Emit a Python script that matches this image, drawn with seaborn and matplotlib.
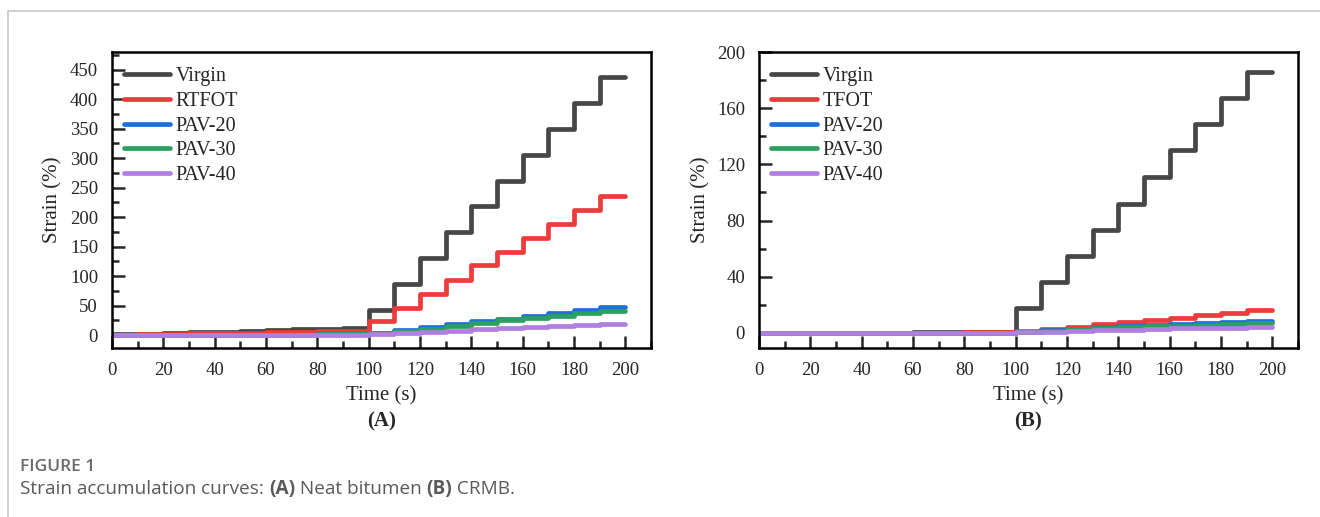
import matplotlib
matplotlib.use('Agg')
import matplotlib.pyplot as plt
from matplotlib.ticker import MultipleLocator
from matplotlib.lines import Line2D
import numpy as np
import pandas as pd
import seaborn as sns

# cycle start times (s); each level is held for the 10 s cycle
cycle_start = list(range(0, 210, 10))

# panel A - neat bitumen, strain (%) reached in each cycle
virgin_a = [1.1, 2.3, 3.5, 4.7, 5.9, 7.1, 8.3, 9.6, 10.8, 12.0,
            42, 86, 131, 174, 218, 262, 305, 350, 393, 437]
rtfot_a = [0.7, 1.4, 2.1, 2.8, 3.5, 4.2, 4.9, 5.6, 6.3, 7.0,
           24, 46, 70, 94, 118, 141, 165, 189, 212, 236]
pav20_a = [0.1, 0.2, 0.3, 0.4, 0.5, 0.6, 0.7, 0.8, 0.9, 1.0,
           3.5, 8, 13, 18, 23, 28, 32, 37, 42, 47]
pav30_a = [0.1, 0.2, 0.3, 0.4, 0.5, 0.6, 0.7, 0.8, 0.9, 1.0,
           3, 7, 11, 16, 20, 25, 29, 33, 37, 41]
pav40_a = [0.05, 0.1, 0.15, 0.2, 0.25, 0.3, 0.35, 0.4, 0.45, 0.5,
           1.5, 3.5, 5.5, 7.5, 9.5, 11.5, 13.5, 15.5, 17.5, 19]

# panel B - CRMB
virgin_b = [0.05, 0.1, 0.15, 0.2, 0.25, 0.3, 0.35, 0.4, 0.45, 0.5,
            18, 36.5, 55, 73.5, 92, 111, 130, 148.5, 167, 186]
tfot_b = [0.04, 0.08, 0.12, 0.16, 0.2, 0.24, 0.28, 0.32, 0.36, 0.4,
          1.2, 3, 4.5, 6.2, 7.8, 9.5, 11, 12.8, 14.3, 16]
pav20_b = [0.03, 0.06, 0.09, 0.12, 0.15, 0.18, 0.21, 0.24, 0.27, 0.3,
           0.9, 2, 3, 3.9, 4.6, 5.5, 6.3, 7, 7.6, 8.2]
pav30_b = [0.03, 0.06, 0.09, 0.12, 0.15, 0.18, 0.21, 0.24, 0.27, 0.3,
           0.8, 1.7, 2.5, 3.3, 3.9, 4.6, 5.3, 5.9, 6.4, 6.9]
pav40_b = [0.02, 0.04, 0.06, 0.08, 0.1, 0.12, 0.14, 0.16, 0.18, 0.2,
           0.5, 1, 1.5, 2, 2.4, 2.8, 3.2, 3.5, 3.8, 4.1]

labels_a = ['Virgin', 'RTFOT', 'PAV-20', 'PAV-30', 'PAV-40']
labels_b = ['Virgin', 'TFOT', 'PAV-20', 'PAV-30', 'PAV-40']
colors = ['#474747', '#ee3b3b', '#1b6fdf', '#2ca05e', '#b07fe0']

SERIF = ['Liberation Serif', 'DejaVu Serif']


def to_frame(series, labels):
    rows = []
    for vals, name in zip(series, labels):
        levels = list(vals) + [vals[-1]]
        for t, v in zip(cycle_start, levels):
            rows.append({'Time': t, 'Strain': v, 'Sample': name})
    return pd.DataFrame(rows)


def draw_panel(ax, df, labels, ylim, ymajor, yminor, tag):
    sns.lineplot(data=df, x='Time', y='Strain', hue='Sample', hue_order=labels,
                 palette=colors, drawstyle='steps-post', linewidth=3.4,
                 ax=ax, legend=False)
    ax.set_xlim(0, 210)
    ax.set_ylim(*ylim)
    ax.xaxis.set_major_locator(MultipleLocator(20))
    ax.xaxis.set_minor_locator(MultipleLocator(10))
    ax.yaxis.set_major_locator(MultipleLocator(ymajor))
    ax.yaxis.set_minor_locator(MultipleLocator(yminor))
    ax.set_xticks(range(0, 201, 20))
    ax.tick_params(which='major', direction='in', length=9, width=1.8,
                   bottom=True, left=True, top=False, right=False,
                   labelsize=13.5, pad=10)
    ax.tick_params(which='minor', direction='in', length=5, width=1.8,
                   bottom=True, left=True, top=False, right=False)
    for lab in ax.get_xticklabels() + ax.get_yticklabels():
        lab.set_family(SERIF)
    for sp in ax.spines.values():
        sp.set_linewidth(1.8)
        sp.set_color('black')
    ax.set_xlabel('Time (s)', family=SERIF, fontsize=15, labelpad=5)
    ax.set_ylabel('Strain (%)', family=SERIF, fontsize=15, labelpad=5)
    ax.text(0.5, -0.215, tag, transform=ax.transAxes, ha='center', va='top',
            family=SERIF, fontsize=15, fontweight='bold')
    handles = [Line2D([], [], color=c, linewidth=3.4) for c in colors]
    leg = ax.legend(handles, labels, loc='upper left', frameon=False,
                    prop={'family': SERIF, 'size': 14.5},
                    handlelength=2.3, handletextpad=0.25, labelspacing=0.28,
                    borderaxespad=0.2, bbox_to_anchor=(0.0, 0.99))
    return leg


sns.set_style('white')
fig = plt.figure(figsize=(13.2, 5.17), dpi=100)

ax_a = fig.add_axes([0.0848, 0.3269, 0.4084, 0.5725])
ax_b = fig.add_axes([0.5750, 0.3269, 0.4083, 0.5725])

draw_panel(ax_a, to_frame([virgin_a, rtfot_a, pav20_a, pav30_a, pav40_a], labels_a),
           labels_a, (-22, 480), 50, 25, '(A)')
draw_panel(ax_b, to_frame([virgin_b, tfot_b, pav20_b, pav30_b, pav40_b], labels_b),
           labels_b, (-10.7, 200), 40, 20, '(B)')

# card border of the figure
fig.add_artist(Line2D([8 / 1320, 1.0], [1 - 11 / 517, 1 - 11 / 517],
                      transform=fig.transFigure, color='#c8c8c8', linewidth=1.2))
fig.add_artist(Line2D([8 / 1320, 8 / 1320], [0.0, 1 - 11 / 517],
                      transform=fig.transFigure, color='#c8c8c8', linewidth=1.2))

# caption
SANS = ['Open Sans', 'DejaVu Sans']
fig.text(20 / 1320, 1 - 467 / 517, 'FIGURE 1', family=SANS, fontsize=12.5,
         fontweight='semibold', color='#6a6a6a', va='center')

pieces = [('Strain accumulation curves: ', 'normal'), ('(A)', 'bold'),
          (' Neat bitumen ', 'normal'), ('(B)', 'bold'), (' CRMB.', 'normal')]
fig.canvas.draw()
renderer = fig.canvas.get_renderer()
x = 20 / 1320
for txt, w in pieces:
    t = fig.text(x, 1 - 489 / 517, txt, family=SANS, fontsize=13.7,
                 fontweight=w, color='#5a5a5a', va='center')
    bb = t.get_window_extent(renderer)
    x += bb.width / fig.bbox.width

fig.savefig('out.png', dpi=100)
